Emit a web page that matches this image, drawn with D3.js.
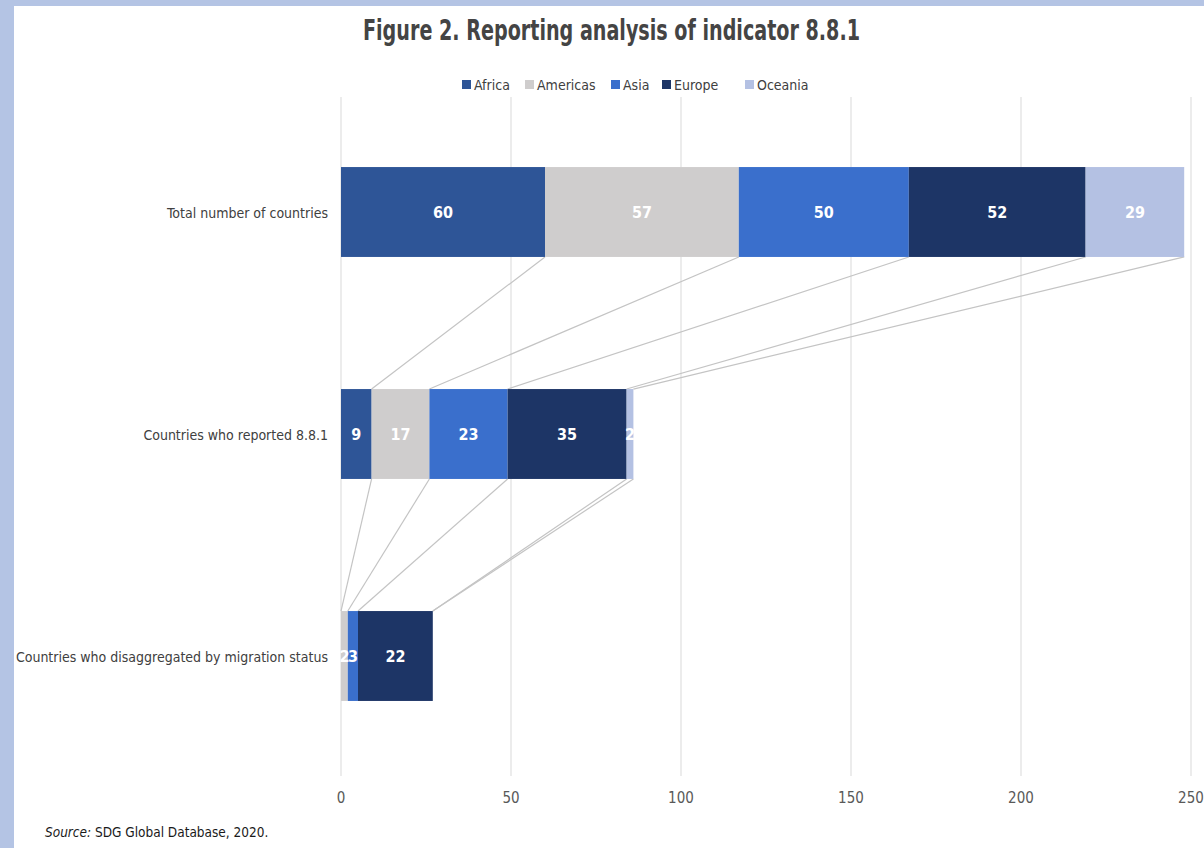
<!DOCTYPE html>
<html>
<head>
<meta charset="utf-8">
<script src="https://cdn.jsdelivr.net/npm/d3@7"></script>
<style>
  body { margin: 0; background: #b4c4e4; }
</style>
</head>
<body>
<div id="chart"></div>
<script>
var categories = ["Total number of countries", "Countries who reported 8.8.1", "Countries who disaggregated by migration status"];
var regions = ["Africa", "Americas", "Asia", "Europe", "Oceania"];
var africa   = [60, 9, 0];
var americas = [57, 17, 2];
var asia     = [50, 23, 3];
var europe   = [52, 35, 22];
var oceania  = [29, 2, 0];
var xTicks = [0, 50, 100, 150, 200, 250];

var colors = ["#2e5597", "#cfcdcd", "#3a6fcc", "#1d3566", "#b4c1e3"];
var series = [africa, americas, asia, europe, oceania];

var W = 1204, H = 848;
var font = "'DejaVu Sans Condensed', 'DejaVu Sans', sans-serif";

var svg = d3.select("#chart").append("svg")
    .attr("width", W).attr("height", H);

// blue frame + white panel
svg.append("rect").attr("x", 0).attr("y", 0).attr("width", W).attr("height", H).attr("fill", "#b4c4e4");
svg.append("rect").attr("x", 14).attr("y", 6).attr("width", W - 14).attr("height", H - 6).attr("fill", "#ffffff");

var x = d3.scaleLinear().domain([0, 250]).range([341, 1191]);
var y = d3.scaleBand().domain(categories).range([101, 767]).paddingInner(0.595).paddingOuter(0.2975);

// grid
svg.selectAll("line.grid")
    .data(xTicks)
    .enter().append("line")
    .attr("class", "grid")
    .attr("x1", function(d) { return x(d); })
    .attr("x2", function(d) { return x(d); })
    .attr("y1", 97)
    .attr("y2", 776)
    .attr("stroke", "#d9d9d9")
    .attr("stroke-width", 1);

svg.selectAll("text.tick")
    .data(xTicks)
    .enter().append("text")
    .attr("class", "tick")
    .attr("x", function(d) { return x(d); })
    .attr("y", 803)
    .attr("text-anchor", "middle")
    .attr("font-family", font)
    .attr("font-size", "15px")
    .attr("fill", "#595959")
    .text(function(d) { return d; });

// stacked data
var rows = categories.map(function(c, i) {
    var acc = 0;
    return regions.map(function(r, j) {
        var v = series[j][i];
        var seg = {cat: c, idx: i, region: j, v: v, x0: acc, x1: acc + v};
        acc += v;
        return seg;
    });
});

// connector lines between bars
for (var i = 0; i < categories.length - 1; i++) {
    rows[i].forEach(function(seg, j) {
        var nxt = rows[i + 1][j];
        svg.append("line")
            .attr("x1", x(seg.x1))
            .attr("y1", y(categories[i]) + y.bandwidth())
            .attr("x2", x(nxt.x1))
            .attr("y2", y(categories[i + 1]))
            .attr("stroke", "#c4c4c4")
            .attr("stroke-width", 1.2);
    });
}

var segs = d3.merge(rows);

svg.selectAll("rect.bar")
    .data(segs)
    .enter().append("rect")
    .attr("class", "bar")
    .attr("x", function(d) { return x(d.x0); })
    .attr("y", function(d) { return y(d.cat); })
    .attr("width", function(d) { return x(d.x1) - x(d.x0); })
    .attr("height", y.bandwidth())
    .attr("fill", function(d) { return colors[d.region]; });

svg.selectAll("text.value")
    .data(segs.filter(function(d) { return d.v > 0; }))
    .enter().append("text")
    .attr("class", "value")
    .attr("x", function(d) { return (x(d.x0) + x(d.x1)) / 2; })
    .attr("y", function(d) { return y(d.cat) + y.bandwidth() / 2 + 6; })
    .attr("text-anchor", "middle")
    .attr("font-family", font)
    .attr("font-size", "16px")
    .attr("font-weight", "bold")
    .attr("fill", "#ffffff")
    .text(function(d) { return d.v; });

// category labels
svg.selectAll("text.cat")
    .data(categories)
    .enter().append("text")
    .attr("class", "cat")
    .attr("x", 328)
    .attr("y", function(d) { return y(d) + y.bandwidth() / 2 + 6; })
    .attr("text-anchor", "end")
    .attr("font-family", font)
    .attr("font-size", "14px")
    .attr("fill", "#404040")
    .text(function(d) { return d; });

// title
svg.append("text")
    .attr("x", 363)
    .attr("y", 40)
    .attr("font-family", font)
    .attr("font-size", "28px")
    .attr("font-weight", "bold")
    .attr("fill", "#444444")
    .attr("textLength", 497)
    .attr("lengthAdjust", "spacingAndGlyphs")
    .text("Figure 2. Reporting analysis of indicator 8.8.1");

// legend
var legendX = [462, 525, 611, 662, 745];
var lg = svg.selectAll("g.legend")
    .data(regions)
    .enter().append("g")
    .attr("class", "legend")
    .attr("transform", function(d, i) { return "translate(" + legendX[i] + ",85)"; });
lg.append("rect")
    .attr("x", 0).attr("y", -5)
    .attr("width", 9).attr("height", 9)
    .attr("fill", function(d, i) { return colors[i]; });
lg.append("text")
    .attr("x", 12).attr("y", 5)
    .attr("font-family", font)
    .attr("font-size", "14px")
    .attr("fill", "#404040")
    .text(function(d) { return d; });

// source
var src = svg.append("text")
    .attr("x", 45)
    .attr("y", 837)
    .attr("font-family", font)
    .attr("font-size", "13.5px")
    .attr("fill", "#1a1a1a");
src.append("tspan").attr("font-style", "italic").text("Source:");
src.append("tspan").text(" SDG Global Database, 2020.");
</script>
</body>
</html>
